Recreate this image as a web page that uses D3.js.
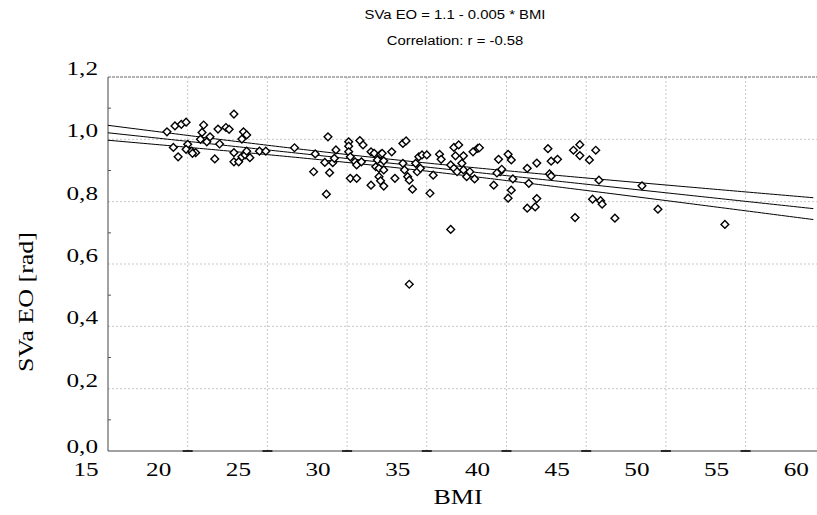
<!DOCTYPE html>
<html>
<head>
<meta charset="utf-8">
<script src="https://cdn.jsdelivr.net/npm/d3@7/dist/d3.min.js"></script>
<style>
  html, body { margin: 0; padding: 0; background: #fff; }
  svg { display: block; }
</style>
</head>
<body>
<svg id="chart" width="817" height="515"></svg>
<script>
// ---------- data ----------
const bmi = [
  18.7, 19.2, 19.6, 19.9, 19.1, 19.4, 20.0, 19.9, 20.25, 20.5, 20.3, 21.0, 20.9, 20.8, 21.2, 21.4,
  21.7, 22.0, 21.9, 22.4, 22.6, 22.9, 23.4, 23.5, 23.7, 22.9, 22.9, 23.2, 23.4, 23.6, 23.7, 23.9,
  24.5, 24.9, 26.7, 28.0, 28.8, 27.9, 28.6, 28.9, 28.7, 29.1, 29.3, 29.2,
  30.1, 30.1, 30.8, 31.0, 30.1, 30.2, 30.5, 30.6, 30.9, 30.2, 30.6, 31.5, 31.7, 32.1, 32.2, 31.9,
  32.3, 31.8, 32.0, 32.3, 32.0, 32.1, 31.5, 32.3, 32.8, 33.0, 33.5, 33.7, 33.5, 33.6, 33.8, 33.9,
  34.1, 34.3, 34.4, 34.6, 34.5, 34.7, 35.0, 35.4, 35.2, 35.8, 35.9, 36.7, 37.0, 36.8, 37.3, 36.5,
  36.7, 36.9, 37.2, 37.3, 37.5, 37.7, 38.0, 37.9, 38.2, 38.3, 39.5, 39.2, 39.6, 39.7, 40.1, 40.3,
  40.4, 40.3, 40.1, 41.3, 41.3, 41.4, 36.5, 33.9,
  39.4, 41.9, 41.9, 41.8, 42.6, 42.8, 43.2, 42.7, 42.8, 44.3, 44.2, 44.6, 44.6, 45.2, 45.6, 45.8,
  45.4, 45.9, 46.0, 46.8, 48.5, 49.5, 53.7
];
const sva = [
  1.024, 1.043, 1.048, 1.055, 0.974, 0.944, 0.984, 0.968, 0.962, 0.957, 0.955, 1.046, 1.022, 1.000, 0.992, 1.008,
  0.937, 0.985, 1.033, 1.038, 1.032, 1.081, 1.001, 1.024, 1.014, 0.957, 0.928, 0.928, 0.944, 0.950, 0.962, 0.941,
  0.962, 0.962, 0.973, 0.953, 1.008, 0.896, 0.926, 0.893, 0.824, 0.925, 0.966, 0.939,
  0.992, 0.978, 0.996, 0.982, 0.960, 0.944, 0.928, 0.918, 0.928, 0.875, 0.875, 0.960, 0.955, 0.952, 0.955, 0.934,
  0.931, 0.912, 0.907, 0.902, 0.880, 0.867, 0.853, 0.850, 0.960, 0.875, 0.987, 0.995, 0.923, 0.902, 0.880, 0.869,
  0.840, 0.923, 0.896, 0.907, 0.944, 0.950, 0.950, 0.885, 0.827, 0.952, 0.936, 0.974, 0.982, 0.947, 0.947, 0.918,
  0.907, 0.896, 0.923, 0.902, 0.880, 0.896, 0.873, 0.960, 0.971, 0.973, 0.936, 0.853, 0.896, 0.904, 0.952, 0.934,
  0.873, 0.837, 0.811, 0.907, 0.779, 0.859, 0.711, 0.535,
  0.892, 0.924, 0.810, 0.783, 0.970, 0.930, 0.936, 0.889, 0.882, 0.749, 0.965, 0.983, 0.948, 0.934, 0.965, 0.869,
  0.808, 0.803, 0.792, 0.747, 0.851, 0.776, 0.727
];
const xTicks = [15, 20, 25, 30, 35, 40, 45, 50, 55, 60];
const yTicks = [0.0, 0.2, 0.4, 0.6, 0.8, 1.0, 1.2];
const yTickLabels = ["0,0", "0,2", "0,4", "0,6", "0,8", "1,0", "1,2"];
const titleLines = ["SVa EO = 1.1 - 0.005 * BMI", "Correlation: r = -0.58"];
const xTitle = "BMI";
const yTitle = "SVa EO [rad]";
// fitted line (as drawn) and its confidence band parameters
const fitIntercept = 1.1035;
const fitSlope = -0.0055;
const bandA = 0.0125, bandB = 0.0012, bandMean = 32;

// ---------- layout ----------
const svg = d3.select("#chart");
const L = 108, R = 817, T = 77, B = 451;
const x = d3.scaleLinear().domain([15, 15 + (R - L) / 15.94]).range([L, R]);
const y = d3.scaleLinear().domain([0, 1.2]).range([B, T]);

// grid
const grid = svg.append("g");
grid.selectAll(".gx").data(xTicks.filter(d => d > 15 && x(d) < R)).join("line")
  .attr("x1", d => x(d)).attr("x2", d => x(d)).attr("y1", T).attr("y2", B)
  .attr("stroke", "#c8c8c8").attr("stroke-width", 1).attr("stroke-dasharray", "2,2");
grid.selectAll(".gy").data(yTicks.filter(d => d > 0 && d < 1.2)).join("line")
  .attr("x1", L).attr("x2", R).attr("y1", d => y(d)).attr("y2", d => y(d))
  .attr("stroke", "#c8c8c8").attr("stroke-width", 1).attr("stroke-dasharray", "2,2");

// frame
svg.append("line").attr("x1", L).attr("x2", L).attr("y1", T).attr("y2", B)
  .attr("stroke", "#444").attr("stroke-width", 1);
svg.append("line").attr("x1", L).attr("x2", R).attr("y1", B).attr("y2", B)
  .attr("stroke", "#444").attr("stroke-width", 1);
svg.append("line").attr("x1", L).attr("x2", R).attr("y1", T).attr("y2", T)
  .attr("stroke", "#666").attr("stroke-width", 1).attr("stroke-dasharray", "3,1");

// minor ticks
const minorY = d3.range(0.1, 1.2, 0.2);
svg.selectAll(".my").data(minorY).join("line")
  .attr("x1", L).attr("x2", L + 3).attr("y1", d => y(d)).attr("y2", d => y(d))
  .attr("stroke", "#555");
svg.selectAll(".mx").data(xTicks.filter(d => d > 15 && x(d) < R)).join("line")
  .attr("x1", d => x(d) - 5).attr("x2", d => x(d) + 5).attr("y1", B).attr("y2", B)
  .attr("stroke", "#000").attr("stroke-width", 1.5);

// tick labels
svg.selectAll(".xl").data(xTicks).join("text")
  .attr("transform", d => `translate(${x(d) + (d === 15 ? -22 : -29)},476) scale(1.4,1)`)
  .attr("text-anchor", "middle")
  .attr("font-family", "Liberation Serif, serif").attr("font-size", 18)
  .attr("fill", "#000").text(d => d);
svg.selectAll(".yl").data(yTicks).join("text")
  .attr("transform", (d, i) => `translate(98,${y(d) - (d === 0 ? 4 : 8) + 6}) scale(1.4,1)`)
  .attr("text-anchor", "end")
  .attr("font-family", "Liberation Serif, serif").attr("font-size", 18)
  .attr("fill", "#000").text((d, i) => yTickLabels[i]);

// axis titles
svg.append("text").attr("transform", "translate(458,504) scale(1.3,1)")
  .attr("text-anchor", "middle").attr("font-family", "Liberation Serif, serif")
  .attr("font-size", 20).text(xTitle);
svg.append("text").attr("transform", "translate(33,302) rotate(-90) scale(1.3,1)")
  .attr("text-anchor", "middle").attr("font-family", "Liberation Serif, serif")
  .attr("font-size", 20).text(yTitle);

// title
svg.selectAll(".tt").data(titleLines).join("text")
  .attr("transform", (d, i) => `translate(455,${19 + i * 26}) scale(1.1,1)`)
  .attr("text-anchor", "middle").attr("font-family", "Liberation Sans, Arial, sans-serif")
  .attr("font-size", 13.5).attr("fill", "#000").text(d => d);

// regression line with confidence band
const xs = d3.range(15, x.domain()[1] + 0.01, 0.25);
const fit = v => fitIntercept + fitSlope * v;
const hw = v => Math.sqrt(bandA * bandA + Math.pow(bandB * (v - bandMean), 2));
const line = d3.line().x(d => x(d[0])).y(d => y(d[1]));
[0, 1, -1].forEach(s => {
  svg.append("path").datum(xs.map(v => [v, fit(v) + s * hw(v)]))
    .attr("d", line).attr("fill", "none").attr("stroke", "#000").attr("stroke-width", 1);
});

// points
const sym = d3.symbol().type(d3.symbolSquare).size(30);
svg.append("g").selectAll("path").data(bmi.map((b, i) => [b, sva[i]])).join("path")
  .attr("transform", d => `translate(${x(d[0])},${y(d[1])}) rotate(45)`)
  .attr("d", sym).attr("fill", "#fff").attr("stroke", "#000").attr("stroke-width", 1.4);
</script>
</body>
</html>
